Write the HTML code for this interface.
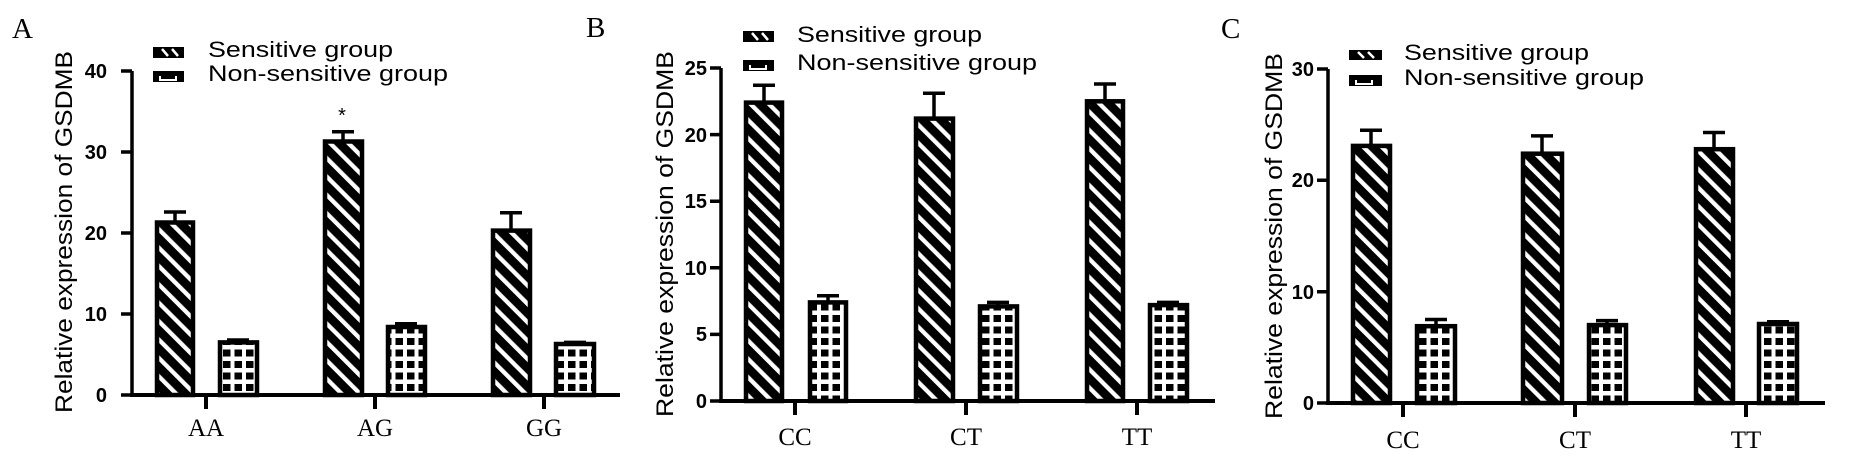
<!DOCTYPE html>
<html><head><style>html,body{margin:0;padding:0;background:#fff}svg{display:block}</style></head>
<body>
<svg width="1849" height="457" viewBox="0 0 1849 457" xmlns="http://www.w3.org/2000/svg">
<defs>
<pattern id="st" patternUnits="userSpaceOnUse" width="13" height="13" patternTransform="rotate(-45)">
<rect width="13" height="13" fill="#000"/><rect x="0" y="0" width="4.3" height="13" fill="#fff"/>
</pattern>
<pattern id="gr" patternUnits="userSpaceOnUse" width="11.5" height="11.5" x="1" y="1">
<rect width="11.5" height="11.5" fill="#fff"/><rect x="3.5" y="3.5" width="7.5" height="7" fill="#000"/>
</pattern>
</defs>
<g font-family="Liberation Sans, sans-serif" fill="#000">
<text x="12" y="38" font-family="Liberation Serif, serif" font-size="29">A</text>
<text x="586" y="37" font-family="Liberation Serif, serif" font-size="29">B</text>
<text x="1221" y="38" font-family="Liberation Serif, serif" font-size="29">C</text>

<g font-size="22">
<rect x="153" y="47" width="31" height="11" fill="#000"/><path d="M162,49 L168,56 M172,49 L178,56" stroke="#fff" stroke-width="2.5"/>
<text x="208" y="57" textLength="185" lengthAdjust="spacingAndGlyphs">Sensitive group</text>
<rect x="153" y="71" width="31" height="11" fill="#000"/><path d="M160,76 V80 H176 V76" stroke="#fff" stroke-width="2" fill="none"/>
<text x="208" y="81" textLength="240" lengthAdjust="spacingAndGlyphs">Non-sensitive group</text>

<rect x="743" y="31" width="31" height="11" fill="#000"/><path d="M752,33 L758,40 M762,33 L768,40" stroke="#fff" stroke-width="2.5"/>
<text x="797" y="42" textLength="185" lengthAdjust="spacingAndGlyphs">Sensitive group</text>
<rect x="743" y="60" width="31" height="11" fill="#000"/><path d="M750,65 V69 H766 V65" stroke="#fff" stroke-width="2" fill="none"/>
<text x="797" y="70" textLength="240" lengthAdjust="spacingAndGlyphs">Non-sensitive group</text>

<rect x="1349" y="50" width="33" height="10" fill="#000"/><path d="M1358,52 L1364,58 M1368,52 L1374,58" stroke="#fff" stroke-width="2.5"/>
<text x="1404" y="60" textLength="185" lengthAdjust="spacingAndGlyphs">Sensitive group</text>
<rect x="1349" y="75" width="33" height="11" fill="#000"/><path d="M1356,80 V84 H1372 V80" stroke="#fff" stroke-width="2" fill="none"/>
<text x="1404" y="85" textLength="240" lengthAdjust="spacingAndGlyphs">Non-sensitive group</text>
</g>

<g font-size="24" text-anchor="middle">
<text transform="translate(72,232) rotate(-90)" textLength="362" lengthAdjust="spacingAndGlyphs">Relative expression of GSDMB</text>
<text transform="translate(673,234) rotate(-90)" textLength="366" lengthAdjust="spacingAndGlyphs">Relative expression of GSDMB</text>
<text transform="translate(1282,236) rotate(-90)" textLength="366" lengthAdjust="spacingAndGlyphs">Relative expression of GSDMB</text>
</g>

<g stroke="#000" fill="none">
<path stroke-width="3.5" d="M132,71 V395 M121,71 H132 M121,152 H132 M121,233 H132 M121,314 H132 M121,395 H132"/>
<path stroke-width="4" d="M130,395 H620 M206,395 V409 M375,395 V409 M544,395 V409"/>
<path stroke-width="3.5" d="M721,68 V401 M710,68 H721 M710,134.6 H721 M710,201.2 H721 M710,267.8 H721 M710,334.4 H721 M710,401 H721"/>
<path stroke-width="4" d="M719,401 H1215 M795,401 V415 M966,401 V415 M1137,401 V415"/>
<path stroke-width="3.5" d="M1328,69 V403 M1317,69 H1328 M1317,180.3 H1328 M1317,291.7 H1328 M1317,403 H1328"/>
<path stroke-width="4" d="M1326,403 H1825 M1403,403 V417 M1575,403 V417 M1746,403 V417"/>
</g>

<g font-size="20" font-weight="bold" text-anchor="end">
<text x="107" y="78">40</text><text x="107" y="159">30</text><text x="107" y="240">20</text><text x="107" y="321">10</text><text x="107" y="402">0</text>
<text x="707" y="75">25</text><text x="707" y="142">20</text><text x="707" y="208">15</text><text x="707" y="275">10</text><text x="707" y="341">5</text><text x="707" y="408">0</text>
<text x="1314" y="76">30</text><text x="1314" y="187">20</text><text x="1314" y="299">10</text><text x="1314" y="410">0</text>
</g>
<g font-size="25" font-family="Liberation Serif, serif" text-anchor="middle">
<text x="206" y="436">AA</text><text x="375" y="436">AG</text><text x="544" y="436">GG</text>
<text x="795" y="445">CC</text><text x="966" y="445">CT</text><text x="1137" y="445">TT</text>
<text x="1403" y="448">CC</text><text x="1575" y="448">CT</text><text x="1746" y="448">TT</text>
</g>
<text x="342" y="122" font-size="20" text-anchor="middle">*</text>

<g stroke="#000" stroke-width="3.5">
<path fill="none" d="
M175,223 V212 M164,212 H186
M238,342 V340 M227,340 H249
M343,142 V131.8 M332,131.8 H354
M406,327 V323.7 M395,323.7 H417
M511,231 V212.8 M500,212.8 H522
M575,344 V342.4 M564,342.4 H586
M764,103 V85.3 M753,85.3 H775
M828,302 V295.8 M817,295.8 H839
M934,119 V93.3 M923,93.3 H945
M998,306 V302.4 M987,302.4 H1009
M1105,101 V84 M1094,84 H1116
M1168,305 V302.4 M1157,302.4 H1179
M1371,146 V130.3 M1360,130.3 H1382
M1436,326 V319.5 M1425,319.5 H1447
M1542,154 V135.9 M1531,135.9 H1553
M1607,325 V320.6 M1596,320.6 H1618
M1714,149 V132.5 M1703,132.5 H1725
M1778,324 V321.7 M1767,321.7 H1789"/>
</g>
<g stroke="#000" stroke-width="4.5">
<rect x="157" y="222.5" width="36" height="172.5" fill="url(#st)"/>
<rect x="220" y="342.4" width="37" height="52.6" fill="url(#gr)"/>
<rect x="325" y="141.5" width="37" height="253.5" fill="url(#st)"/>
<rect x="388" y="327" width="37" height="68" fill="url(#gr)"/>
<rect x="493" y="230.6" width="37" height="164.4" fill="url(#st)"/>
<rect x="556" y="344" width="38" height="51" fill="url(#gr)"/>

<rect x="746" y="102.6" width="36" height="298.4" fill="url(#st)"/>
<rect x="810" y="302.4" width="36" height="98.6" fill="url(#gr)"/>
<rect x="916" y="118.6" width="37" height="282.4" fill="url(#st)"/>
<rect x="980" y="306.4" width="37" height="94.6" fill="url(#gr)"/>
<rect x="1087" y="101.3" width="36" height="299.7" fill="url(#st)"/>
<rect x="1150" y="305.1" width="37" height="95.9" fill="url(#gr)"/>

<rect x="1353" y="145.9" width="37" height="257.1" fill="url(#st)"/>
<rect x="1417" y="326.2" width="38" height="76.8" fill="url(#gr)"/>
<rect x="1523" y="153.7" width="39" height="249.3" fill="url(#st)"/>
<rect x="1589" y="325.1" width="37" height="77.9" fill="url(#gr)"/>
<rect x="1696" y="149.2" width="37" height="253.8" fill="url(#st)"/>
<rect x="1759" y="324" width="38" height="79" fill="url(#gr)"/>
</g>
</g>
</svg>
</body></html>
